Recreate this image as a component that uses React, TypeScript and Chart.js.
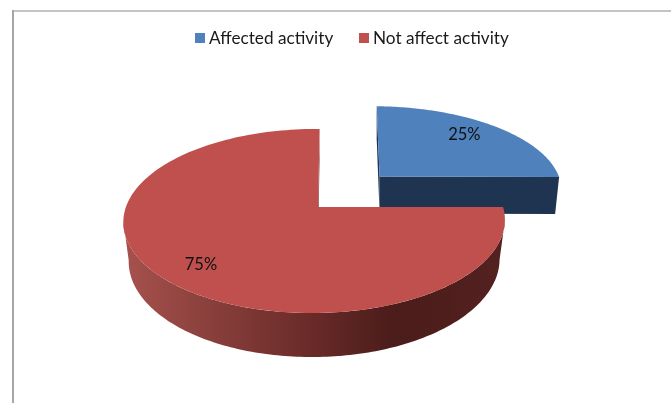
import { useEffect, useRef } from "react";
import { Chart, registerables } from "chart.js";

Chart.register(...registerables);

// Survey split shown by the pie
const categories = ["Affected activity", "Not affect activity"];
const shares = [25, 75];
const sliceColors = ["#4F81BD", "#C0504D"];
const faceColors = ["#1F3450", "#6B2B2A"];

// Perspective camera for the tilted disc
const camera = { x0: 318, y0: 207, a: 188.5, b: 89.9, c: -3, k: -0.152, m: 0.0186 };
// Exploded placement of each slice, in disc units
const placement = [
  { ex: 0.341, ey: -0.36, rx: 1.035, lean: -0.015, vanishX: 379, shrink: 0.978, labelAt: 0.77, labelSpin: -0.05 },
  { ex: 0, ey: 0, rx: 1, lean: 0.006, vanishX: 314.5, shrink: 0.972, labelAt: 0.8, labelSpin: -0.02 },
];
// Angle past the horizontal where the disc outline is widest on screen
const SILHOUETTE = 0.15;
const LABEL_FONT = "16.5px Lato, sans-serif";
const LEGEND_FONT = "17.2px Lato, sans-serif";

type Pt = { x: number; y: number };
type Place = (typeof placement)[number];

function project(u: number, v: number): Pt {
  const { x0, y0, a, b, c, k, m } = camera;
  const w = 1 + k * v + m * u;
  return { x: x0 + (a * u + c * v) / w, y: y0 + (b * v) / w };
}

function onSlice(p: Place, rho: number, theta: number): Pt {
  const sin = Math.sin(theta);
  return project(p.ex + rho * (p.rx * Math.cos(theta) + p.lean * sin), p.ey + rho * sin);
}

// Bottom rim of the disc: pushed down and pulled slightly towards the middle
function dropped(p: Place, pt: Pt): Pt {
  const depth = 37 + 0.0515 * (pt.y - 177);
  return { x: p.vanishX + (pt.x - p.vanishX) * p.shrink, y: pt.y + depth };
}

function polygon(ctx: CanvasRenderingContext2D, pts: Pt[], fill: string | CanvasGradient) {
  ctx.beginPath();
  pts.forEach((pt, i) => (i ? ctx.lineTo(pt.x, pt.y) : ctx.moveTo(pt.x, pt.y)));
  ctx.closePath();
  ctx.fillStyle = fill;
  ctx.fill();
}

function arcPoints(p: Place, from: number, to: number): Pt[] {
  const steps = 160;
  const pts: Pt[] = [];
  for (let i = 0; i <= steps; i++) pts.push(onSlice(p, 1, from + ((to - from) * i) / steps));
  return pts;
}

const tiltedPie = {
  id: "tiltedPie",
  beforeDraw(chart: Chart) {
    // Frame around the figure, open on the right and at the bottom
    const ctx = chart.ctx;
    ctx.fillStyle = "#FFFFFF";
    ctx.fillRect(0, 0, chart.width, chart.height);
    ctx.fillStyle = "#C4C4C4";
    ctx.fillRect(12, 10, chart.width - 12, 2);
    ctx.fillStyle = "#A6A6A6";
    ctx.fillRect(12, 10, 2, chart.height - 10);
  },
  beforeDatasetsDraw(chart: Chart) {
    const ctx = chart.ctx;
    const arcs = chart.getDatasetMeta(0).data as any[];
    arcs.forEach((arc, i) => {
      const p = placement[i];
      const { startAngle, endAngle } = arc;
      const apex = onSlice(p, 0, 0);
      const rim = arcPoints(p, startAngle, endAngle);
      const first = rim[0];
      const last = rim[rim.length - 1];

      // Radial walls exposed by pulling the slice out
      polygon(ctx, [first, apex, dropped(p, apex), dropped(p, first)], faceColors[i]);
      polygon(ctx, [apex, last, dropped(p, last), dropped(p, apex)], faceColors[i]);

      // Curved outer wall along the front of the disc
      const from = Math.max(startAngle, SILHOUETTE);
      const to = Math.min(endAngle, Math.PI - SILHOUETTE);
      if (to > from) {
        const front = arcPoints(p, from, to);
        const gradient = ctx.createLinearGradient(130, 0, 500, 0);
        gradient.addColorStop(0, "#A5504C");
        gradient.addColorStop(0.2, "#8B413D");
        gradient.addColorStop(0.45, "#6E2D2B");
        gradient.addColorStop(0.72, "#4A1C1A");
        gradient.addColorStop(1, "#532120");
        polygon(ctx, [...front, ...front.map((pt) => dropped(p, pt)).reverse()], gradient);
      }

      // Top surface
      polygon(ctx, [apex, ...rim], arc.options.backgroundColor);
    });
    return false;
  },
  afterDraw(chart: Chart) {
    const ctx = chart.ctx;
    const arcs = chart.getDatasetMeta(0).data as any[];
    const total = shares.reduce((s, v) => s + v, 0);

    // Percentage labels
    ctx.save();
    ctx.fillStyle = "#101010";
    ctx.font = LABEL_FONT;
    ctx.textAlign = "center";
    ctx.textBaseline = "middle";
    arcs.forEach((arc, i) => {
      const p = placement[i];
      const mid = (arc.startAngle + arc.endAngle) / 2 + p.labelSpin;
      const at = onSlice(p, p.labelAt, mid);
      ctx.fillText(`${Math.round((shares[i] / total) * 100)}%`, at.x, at.y);
    });

    // Legend row
    ctx.textAlign = "left";
    ctx.font = LEGEND_FONT;
    const labels = chart.data.labels as string[];
    const starts = [195, 359];
    labels.forEach((label, i) => {
      ctx.fillStyle = sliceColors[i];
      ctx.fillRect(starts[i], 33, 10, 10);
      ctx.fillStyle = "#1A1A1A";
      ctx.fillText(label, starts[i] + 14, 38);
    });
    ctx.restore();
  },
};

export default function App() {
  const ref = useRef<HTMLCanvasElement>(null);
  useEffect(() => {
    const chart = new Chart(ref.current!, {
      type: "pie",
      data: {
        labels: categories,
        datasets: [{ data: shares, backgroundColor: sliceColors, borderWidth: 0 }],
      },
      options: {
        animation: false,
        responsive: false,
        plugins: { legend: { display: false }, tooltip: { enabled: false } },
      },
      plugins: [tiltedPie as any],
    });
    return () => chart.destroy();
  }, []);
  return (
    <div style={{ position: "absolute", left: 0, top: 0 }}>
      <canvas ref={ref} width={671} height={403} style={{ display: "block" }} />
    </div>
  );
}
